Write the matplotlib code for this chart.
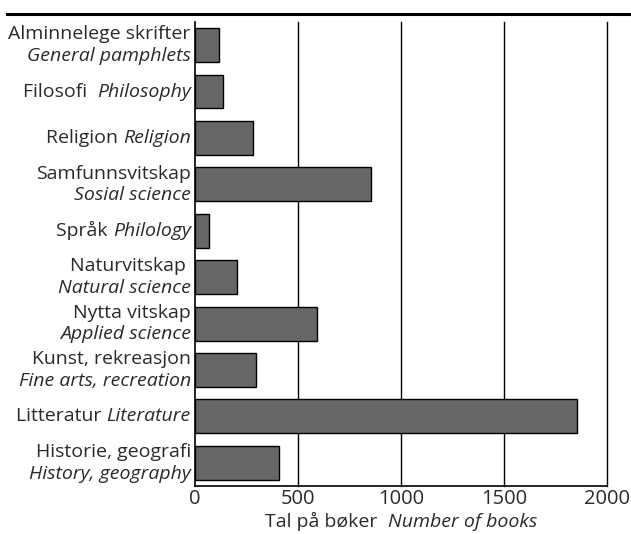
import matplotlib.pyplot as plt
from matplotlib.lines import Line2D
from matplotlib.offsetbox import TextArea, HPacker, VPacker, AnnotationBbox

plt.rcParams['font.family'] = ['Open Sans', 'DejaVu Sans']

# (norwegian, english, on two lines?)
labels_no = ["Alminnelege skrifter", "Filosofi ", "Religion", "Samfunnsvitskap",
             "Språk", "Naturvitskap ", "Nytta vitskap", "Kunst, rekreasjon",
             "Litteratur", "Historie, geografi"]
labels_en = ["General pamphlets", "Philosophy", "Religion", "Sosial science",
             "Philology", "Natural science", "Applied science", "Fine arts, recreation",
             "Literature", "History, geography"]
two_lines = [True, False, False, True, False, True, True, True, False, True]
books = [117, 136, 282, 854, 68, 204, 592, 295, 1853, 409]
xticks = [0, 500, 1000, 1500, 2000]

fig = plt.figure(figsize=(6.31, 5.34), dpi=100)
ax = fig.add_axes([0.309, 0.0899, 0.653, 0.869])

pos = list(range(len(books)))
ax.barh(pos, books, height=0.73, color="#666666", edgecolor="black", linewidth=1, zorder=3)
ax.set_ylim(9.5, -0.5)
ax.set_xlim(0, 2000)
ax.set_xticks(xticks)
ax.set_xticklabels([str(t) for t in xticks], fontsize=14.5, color="#2a2a2a")
ax.tick_params(axis="x", length=0, pad=2)
ax.set_yticks([])
for x in xticks[1:]:
    ax.axvline(x, color="black", linewidth=1, zorder=1, clip_on=False)
for s in ["top", "right"]:
    ax.spines[s].set_visible(False)
ax.spines["left"].set_linewidth(1.2)
ax.spines["bottom"].set_linewidth(1.2)

up = dict(fontsize=14, color="#2a2a2a")
it = dict(fontsize=14, color="#2a2a2a", style="italic")

for i, (no, en, two) in enumerate(zip(labels_no, labels_en, two_lines)):
    if two:
        box = VPacker(children=[TextArea(no, textprops=up), TextArea(en, textprops=it)],
                      align="right", pad=0, sep=2.5)
    else:
        box = HPacker(children=[TextArea(no + " ", textprops=up), TextArea(en, textprops=it)],
                      align="baseline", pad=0, sep=0)
    ab = AnnotationBbox(box, (0, i), xybox=(-3, 0), xycoords=("axes fraction", "data"),
                        boxcoords="offset points", box_alignment=(1, 0.5), frameon=False)
    ax.add_artist(ab)

xl = HPacker(children=[TextArea("Tal på bøker  ", textprops=up),
                       TextArea("Number of books", textprops=it)],
             align="baseline", pad=0, sep=0)
ax.add_artist(AnnotationBbox(xl, (0.5, 0), xybox=(0, -19), xycoords="axes fraction",
                             boxcoords="offset points", box_alignment=(0.5, 1), frameon=False))

fig.add_artist(Line2D([0.011, 1.0], [0.974, 0.974], color="black", linewidth=2.2,
                      transform=fig.transFigure))

fig.savefig("out.png", dpi=100)
